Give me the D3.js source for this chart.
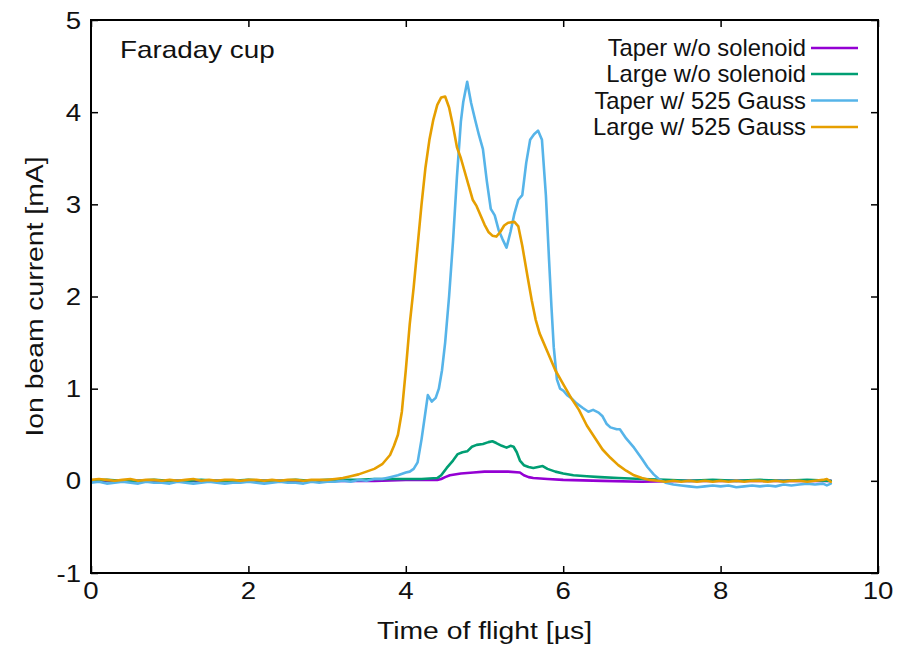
<!DOCTYPE html>
<html>
<head>
<meta charset="utf-8">
<script src="https://cdn.jsdelivr.net/npm/d3@7"></script>
<style>
  html, body { margin: 0; padding: 0; background: #fff; }
  svg { display: block; font-family: "Liberation Sans", Arial, Helvetica, sans-serif; }
</style>
</head>
<body>
<svg id="chart" width="899" height="649"></svg>
<script>
// Faraday cup signals: [time of flight (µs), ion beam current (mA)]
const taperNoSolenoid = [
  [0,0],[0.4,0],[0.8,0],[1.2,0],[1.6,0],[2,0],[2.4,0],[2.8,0],[3.2,0],[3.6,0],[4,0.01],[4.4,0.01],
  [4.45,0.02],[4.5,0.04],[4.56,0.06],[4.7,0.08],[4.86,0.09],[5,0.1],[5.1,0.1],[5.3,0.1],[5.45,0.09],
  [5.5,0.06],[5.56,0.04],[5.62,0.03],[5.8,0.02],[6,0.01],[6.5,0],[7,-0.01],[7.5,0],[8,0],[8.5,0],[9,0],[9.4,0]
];
const largeNoSolenoid = [
  [0,0],[0.2,0.01],[0.4,0],[0.6,0],[0.8,0.01],[1,0],[1.2,0],[1.4,0.01],[1.6,0],[1.8,0],[2,0.01],[2.2,0],
  [2.4,0],[2.6,0.01],[2.8,0],[3,0.01],[3.2,0.01],[3.4,0.01],[3.6,0.02],[3.8,0.02],[4,0.02],[4.2,0.02],[4.4,0.03],
  [4.45,0.06],[4.52,0.14],[4.6,0.22],[4.66,0.29],[4.72,0.31],[4.78,0.32],[4.84,0.37],[4.9,0.39],[4.98,0.4],
  [5.05,0.42],[5.1,0.43],[5.15,0.41],[5.22,0.38],[5.28,0.36],[5.33,0.38],[5.37,0.37],[5.41,0.31],[5.45,0.22],
  [5.5,0.17],[5.56,0.15],[5.62,0.14],[5.68,0.15],[5.74,0.16],[5.8,0.13],[5.9,0.1],[6,0.08],[6.13,0.06],
  [6.3,0.05],[6.47,0.04],[6.7,0.03],[7,0.02],[7.3,0.01],[7.6,0],[7.9,0.01],[8.2,0],[8.5,0.01],[8.8,0],
  [9.1,0.01],[9.4,0]
];
const taperGauss = [
  [0,-0.02],[0.1,-0.01],[0.2,-0.03],[0.3,-0.02],[0.4,-0.01],[0.5,-0.02],[0.6,-0.03],[0.7,-0.01],[0.8,-0.02],
  [0.9,-0.02],[1,-0.03],[1.1,-0.01],[1.2,-0.02],[1.3,-0.03],[1.4,-0.02],[1.5,-0.01],[1.6,-0.02],[1.7,-0.03],
  [1.8,-0.02],[1.9,-0.02],[2,-0.01],[2.1,-0.02],[2.2,-0.03],[2.3,-0.02],[2.4,-0.01],[2.5,-0.02],[2.6,-0.02],
  [2.7,-0.03],[2.8,-0.01],[2.9,-0.02],[3,-0.01],[3.1,-0.01],[3.2,0],[3.3,-0.01],[3.4,0.01],[3.5,0],[3.6,0.02],
  [3.7,0.02],[3.8,0.04],[3.9,0.06],[4,0.09],[4.05,0.1],[4.1,0.13],[4.15,0.2],[4.2,0.45],[4.25,0.75],[4.28,0.93],
  [4.33,0.86],[4.38,0.9],[4.42,1.0],[4.46,1.2],[4.5,1.5],[4.55,2.0],[4.6,2.6],[4.65,3.3],[4.7,3.9],[4.73,4.11],
  [4.78,4.33],[4.83,4.1],[4.88,3.92],[4.93,3.75],[4.98,3.6],[5.03,3.25],[5.08,2.95],[5.13,2.88],[5.18,2.72],
  [5.23,2.62],[5.28,2.53],[5.33,2.7],[5.38,2.9],[5.43,3.05],[5.48,3.1],[5.53,3.45],[5.58,3.7],[5.63,3.76],
  [5.68,3.8],[5.73,3.7],[5.78,3.1],[5.82,2.4],[5.85,1.9],[5.88,1.45],[5.92,1.1],[5.96,1.0],[6,0.98],[6.05,0.93],
  [6.1,0.9],[6.17,0.84],[6.25,0.79],[6.32,0.75],[6.38,0.77],[6.45,0.74],[6.5,0.7],[6.55,0.62],[6.6,0.58],
  [6.68,0.56],[6.72,0.56],[6.8,0.46],[6.9,0.36],[7,0.24],[7.07,0.15],[7.15,0.07],[7.23,0.01],[7.3,-0.02],
  [7.4,-0.04],[7.5,-0.05],[7.6,-0.06],[7.7,-0.07],[7.8,-0.06],[7.9,-0.05],[8,-0.06],[8.1,-0.05],[8.2,-0.07],
  [8.3,-0.06],[8.4,-0.05],[8.5,-0.06],[8.6,-0.05],[8.7,-0.06],[8.8,-0.04],[8.9,-0.05],[9,-0.04],[9.1,-0.03],
  [9.2,-0.04],[9.3,-0.03],[9.35,-0.05],[9.4,-0.03]
];
const largeGauss = [
  [0,0.01],[0.1,0.02],[0.2,0.01],[0.3,0],[0.4,0.01],[0.5,0.02],[0.6,0],[0.7,0.01],[0.8,0.01],[0.9,0],[1,0.01],
  [1.1,0],[1.2,0.01],[1.3,0.02],[1.4,0],[1.5,0.01],[1.6,0],[1.7,0.01],[1.8,0.01],[1.9,0],[2,0.01],[2.1,0.01],
  [2.2,0],[2.3,0.01],[2.4,0],[2.5,0.01],[2.6,0.01],[2.7,0],[2.8,0.01],[2.9,0.01],[3,0.01],[3.1,0.02],[3.2,0.03],
  [3.3,0.05],[3.4,0.07],[3.5,0.1],[3.6,0.13],[3.7,0.18],[3.8,0.28],[3.85,0.38],[3.9,0.5],[3.95,0.75],[4,1.2],
  [4.05,1.7],[4.1,2.1],[4.15,2.55],[4.2,3.0],[4.25,3.4],[4.3,3.7],[4.35,3.92],[4.4,4.08],[4.45,4.16],[4.5,4.17],
  [4.55,4.05],[4.6,3.85],[4.65,3.62],[4.7,3.5],[4.8,3.2],[4.85,3.05],[4.9,2.98],[5,2.78],[5.05,2.7],[5.1,2.66],
  [5.15,2.65],[5.2,2.7],[5.25,2.77],[5.3,2.8],[5.38,2.81],[5.43,2.76],[5.48,2.55],[5.55,2.2],[5.6,1.96],
  [5.65,1.75],[5.7,1.6],[5.8,1.4],[5.9,1.2],[6,1.05],[6.1,0.9],[6.2,0.77],[6.3,0.6],[6.4,0.47],[6.5,0.34],
  [6.6,0.25],[6.7,0.17],[6.8,0.11],[6.9,0.06],[7,0.03],[7.1,0.01],[7.2,0],[7.3,-0.01],[7.4,0],[7.5,-0.01],
  [7.6,0],[7.7,-0.01],[7.8,0],[7.9,-0.01],[8,0],[8.1,-0.01],[8.2,0],[8.3,-0.01],[8.4,0],[8.5,0],[8.6,-0.01],
  [8.7,0],[8.8,-0.01],[8.9,0],[9,0],[9.1,-0.01],[9.2,0],[9.3,0.01],[9.35,0.02],[9.4,-0.01]
];

const seriesNames = ["Taper w/o solenoid", "Large w/o solenoid", "Taper w/ 525 Gauss", "Large w/ 525 Gauss"];
const seriesColors = ["#9400d3", "#009e73", "#56b4e9", "#e69f00"];
const seriesData = [taperNoSolenoid, largeNoSolenoid, taperGauss, largeGauss];

const xTicks = [0, 2, 4, 6, 8, 10];
const yTicks = [-1, 0, 1, 2, 3, 4, 5];

const svg = d3.select("#chart");
const margin = { left: 91, right: 21, top: 20, bottom: 76 };
const W = 899, H = 649;

const x = d3.scaleLinear().domain([0, 10]).range([margin.left, W - margin.right]);
const y = d3.scaleLinear().domain([-1, 5]).range([H - margin.bottom, margin.top]);

const tickLen = 7;
const textColor = "#111";

// Text helper: places a label at (px, py) with a horizontal widening factor
function label(parent, px, py, str, size, sx, anchor, rotate) {
  const g = parent.append("g")
    .attr("transform", `translate(${px},${py})` + (rotate ? ` rotate(${rotate})` : "") + ` scale(${sx},1)`);
  g.append("text")
    .attr("text-anchor", anchor || "start")
    .attr("fill", textColor)
    .style("font-size", size + "px")
    .text(str);
  return g;
}

// Inward ticks on all four sides (labels drawn separately)
const xBottom = d3.axisBottom(x).tickValues(xTicks).tickSizeInner(-tickLen).tickSizeOuter(0).tickFormat("");
const xTop = d3.axisTop(x).tickValues(xTicks).tickSizeInner(-tickLen).tickSizeOuter(0).tickFormat("");
const yLeft = d3.axisLeft(y).tickValues(yTicks).tickSizeInner(-tickLen).tickSizeOuter(0).tickFormat("");
const yRight = d3.axisRight(y).tickValues(yTicks).tickSizeInner(-tickLen).tickSizeOuter(0).tickFormat("");

function styleAxis(g) {
  g.select(".domain").remove();
  g.selectAll(".tick line").attr("stroke", "#000").attr("stroke-width", 1.5);
}

svg.append("g").attr("transform", `translate(0,${y(-1)})`).call(xBottom).call(styleAxis);
svg.append("g").attr("transform", `translate(0,${y(5)})`).call(xTop).call(styleAxis);
svg.append("g").attr("transform", `translate(${x(0)},0)`).call(yLeft).call(styleAxis);
svg.append("g").attr("transform", `translate(${x(10)},0)`).call(yRight).call(styleAxis);

// Tick labels
const tickSize = 24, tickStretch = 1.15;
const tickLabels = svg.append("g");
xTicks.forEach(t => label(tickLabels, x(t), y(-1) + 26, String(t), tickSize, tickStretch, "middle"));
yTicks.forEach(t => label(tickLabels, x(0) - 10, y(t) + 8.5, String(t), tickSize, tickStretch, "end"));

// Clip the curves to the plotting frame
svg.append("clipPath").attr("id", "plotClip").append("rect")
  .attr("x", x(0)).attr("y", y(5)).attr("width", x(10) - x(0)).attr("height", y(-1) - y(5));

const line = d3.line().x(d => x(d[0])).y(d => y(d[1]));

const curves = svg.append("g").attr("clip-path", "url(#plotClip)");
seriesData.forEach((data, i) => {
  curves.append("path")
    .datum(data)
    .attr("fill", "none")
    .attr("stroke", seriesColors[i])
    .attr("stroke-width", 2.6)
    .attr("stroke-linejoin", "round")
    .attr("stroke-linecap", "round")
    .attr("d", line);
});

// Plot frame
svg.append("rect")
  .attr("x", x(0)).attr("y", y(5))
  .attr("width", x(10) - x(0)).attr("height", y(-1) - y(5))
  .attr("fill", "none").attr("stroke", "#000").attr("stroke-width", 2);

// Axis titles
label(svg, (x(0) + x(10)) / 2, 639, "Time of flight [µs]", 24, 1.18, "middle");
label(svg, 43, (y(-1) + y(5)) / 2, "Ion beam current [mA]", 24, 1.18, "middle", -90);

// Panel label
label(svg, 120, 58, "Faraday cup", 24, 1.16, "start");

// Legend
const legend = svg.append("g");
const legendY = [48, 74, 100.5, 127];
seriesNames.forEach((name, i) => {
  label(legend, 806, legendY[i] + 8.3, name, 23, 1.035, "end");
  legend.append("line")
    .attr("x1", 811).attr("x2", 858)
    .attr("y1", legendY[i]).attr("y2", legendY[i])
    .attr("stroke", seriesColors[i]).attr("stroke-width", 2.6);
});
</script>
</body>
</html>
